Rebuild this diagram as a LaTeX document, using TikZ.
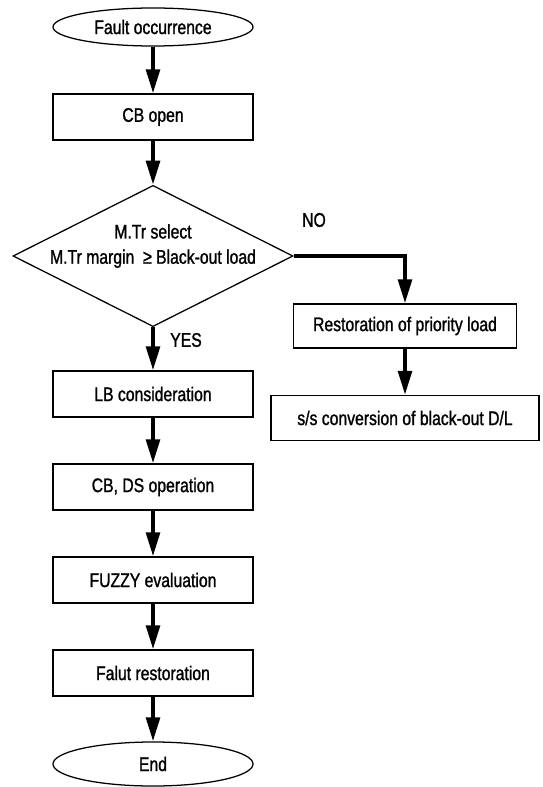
\documentclass[tikz,border=0pt]{standalone}
\usepackage{fontspec}
\setmainfont{Liberation Sans}[FakeStretch=0.8,FakeBold=1.2]
\usepackage{tikz}
\usetikzlibrary{shapes.geometric,arrows.meta}
\tikzset{
   stepbox/.style={draw=black, line width=0.9pt, rectangle, inner sep=0pt,
                   minimum width=5cm, minimum height=1.15cm},
   terminal/.style={draw=black, line width=0.9pt, ellipse, inner sep=0pt,
                   minimum width=5cm, minimum height=0.95cm},
   decision/.style={draw=black, line width=0.9pt, diamond, inner sep=0pt,
                   minimum width=7cm, minimum height=3.53cm},
   flow/.style={line width=2.8pt, -{Triangle[length=0.6cm,width=0.34cm]}},
   every node/.style={font=\fontsize{14}{18}\selectfont}
}

\begin{document}
\begin{tikzpicture}[x=0.025cm,y=-0.025cm]
\useasboundingbox (0,0) rectangle (543,787);

% main line
\node[terminal] (fault) at (153,27) {Fault occurrence};
\node[stepbox] (cbopen) at (153,117) {CB open};
\node[decision] (select) at (153,256) {};
\node[align=center] (seltext) at (153,246) {M.Tr select\\M.Tr margin~~≥~Black-out load};
\node[stepbox] (lb) at (153,394) {LB consideration};
\node[stepbox] (cbds) at (153,487) {CB, DS operation};
\node[stepbox] (fuzzy) at (153,580) {FUZZY evaluation};
\node[stepbox] (falut) at (153,673) {Falut restoration};
\node[terminal, minimum height=1.1cm] (end) at (153,764) {End};

% NO branch
\node[stepbox, minimum width=5.575cm, minimum height=1.1cm] (prio) at (405,326) {Restoration of priority load\hspace{0.4cm}};
\node[stepbox, minimum width=6.7cm, minimum height=1.125cm] (conv) at (405,418) {s/s conversion of black-out D/L\hspace{0.6cm}};

\node (no) at (314,220) {NO};
\node (yes) at (186,340) {YES};

\path[flow]
(fault) edge (cbopen)
(cbopen) edge (select)
(select) edge (lb)
(lb) edge (cbds)
(cbds) edge (fuzzy)
(fuzzy) edge (falut)
(falut) edge (end)
(prio) edge (conv)
      ;
\draw[flow] (select.east) -| (prio.north);

\end{tikzpicture}
\end{document}
